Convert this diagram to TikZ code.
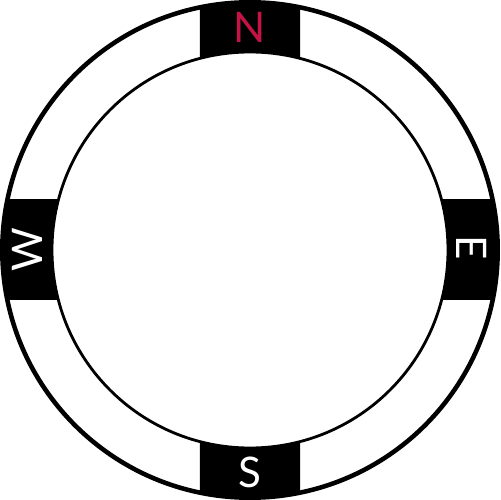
\documentclass[tikz,border=0pt]{standalone}
\usepackage{fontspec}
\setmainfont{Lato}
\definecolor{compassred}{HTML}{C41446}
\begin{document}
\begin{tikzpicture}[x=0.02cm,y=0.02cm,
  lbl/.style={font=\fontsize{24}{24}\selectfont, inner sep=0pt, text=white},
  ring/.style={fill=black, even odd rule}]
\useasboundingbox (-250,-250) rectangle (250,250);
% black bands
\begin{scope}
  \clip (-50,0) rectangle (50,260);
  \fill[ring] (0,0) circle[radius=249] (0,0) circle[radius=198];
\end{scope}
\begin{scope}
  \clip (-50,0) rectangle (50,-260);
  \fill[ring] (0,0) circle[radius=249] (0,0) circle[radius=198];
\end{scope}
\begin{scope}
  \clip (0,-50) rectangle (260,50);
  \fill[ring] (0,0) circle[radius=249] (0,0) circle[radius=198];
\end{scope}
\begin{scope}
  \clip (0,-50) rectangle (-260,50);
  \fill[ring] (0,0) circle[radius=249] (0,0) circle[radius=198];
\end{scope}
% circles
\draw[line width=2.6pt] (0,0) circle[radius=247.7];
\draw[line width=1.6pt] (0,0) circle[radius=198];
% labels
\node[lbl, text=compassred] (n) at (0,223) {N};
\node[lbl] (s) at (0,-222) {S};
\node[lbl, rotate=-90] (e) at (222,2) {E};
\node[lbl, rotate=90] (w) at (-223,0) {W};
\end{tikzpicture}
\end{document}
